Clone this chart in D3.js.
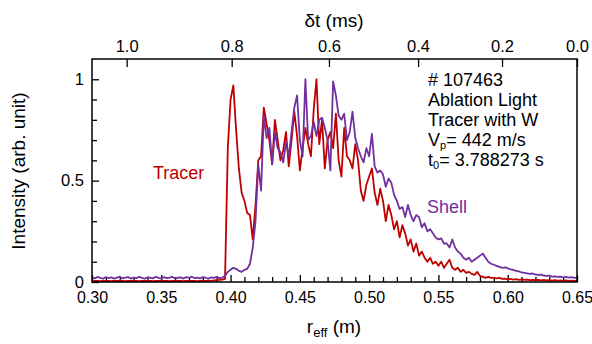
<!DOCTYPE html>
<html><head><meta charset="utf-8">
<script src="https://cdn.jsdelivr.net/npm/d3@7"></script>
<style>body{margin:0;background:#fff}svg{display:block}text{font-family:"Liberation Sans",Arial,sans-serif}</style>
</head><body><svg id="c" width="592" height="344"></svg>
<script>
// sampling grid of r_eff (m)
const rStart = 0.300, rStep = 0.002;
// Tracer intensity (red)
const tracer = [
0.006,0.005,0.006,0.004,0.005,0.006,0.005,0.004,0.006,0.005,
0.005,0.006,0.004,0.005,0.006,0.005,0.005,0.004,0.006,0.005,
0.006,0.005,0.004,0.005,0.006,0.005,0.005,0.006,0.004,0.005,
0.006,0.005,0.005,0.004,0.006,0.005,0.006,0.005,0.004,0.006,
0.005,0.006,0.007,0.006,0.008,0.009,0.010,0.012,
0.015,0.66,0.90,0.97,0.75,0.56,0.44,0.40,0.34,0.33,0.21,0.38,0.60,0.62,0.86,
0.78,0.70,0.58,0.80,0.70,0.60,0.65,0.74,0.57,0.70,0.84,0.72,0.55,0.66,0.76,0.68,0.62,0.85,1.00,0.68,
0.80,0.56,0.70,0.74,0.66,0.83,0.60,0.52,0.76,0.62,0.60,0.56,0.68,0.60,0.45,0.40,0.48,
0.52,0.56,0.44,0.38,0.46,0.40,0.30,0.38,0.33,0.26,0.30,0.22,0.28,0.24,0.18,0.21,0.15,0.19,0.13,0.15,
0.12,0.10,0.12,0.09,0.10,0.08,0.10,0.07,0.09,0.11,0.07,0.06,0.07,0.05,0.06,0.045,0.05,0.04,0.035,0.05,
0.03,0.025,0.02,0.025,0.02,0.02,0.018,0.02,0.015,0.017,0.013,0.015,0.012,0.014,0.011,0.013,0.010,0.012,0.009,0.011,
0.009,0.010,0.008,0.010,0.008,0.009,0.007,0.009,0.007,0.008,0.006,0.008,0.006,0.007,0.006,0.007
];
// Shell intensity (purple)
const shell = [
0.022,0.018,0.025,0.020,0.016,0.024,0.019,0.023,0.017,0.022,
0.026,0.018,0.021,0.024,0.017,0.022,0.019,0.025,0.020,0.016,
0.023,0.021,0.018,0.026,0.020,0.017,0.024,0.019,0.022,0.025,
0.018,0.021,0.023,0.017,0.024,0.020,0.026,0.019,0.022,0.018,
0.024,0.021,0.017,0.023,0.020,0.025,0.019,0.022,
0.03,0.05,0.06,0.07,0.065,0.055,0.05,0.06,0.065,0.09,0.17,0.30,0.58,0.45,0.82,
0.71,0.76,0.58,0.74,0.66,0.64,0.59,0.69,0.62,0.74,0.86,0.92,0.70,0.62,1.00,0.70,0.72,0.79,0.72,0.80,
0.81,0.76,0.70,0.55,0.99,0.92,0.82,0.80,0.83,0.70,0.74,0.84,0.71,0.66,0.62,0.59,0.66,
0.62,0.73,0.57,0.54,0.55,0.53,0.47,0.51,0.49,0.43,0.40,0.36,0.37,0.32,0.38,0.33,0.30,0.33,0.32,0.27,
0.29,0.25,0.26,0.24,0.22,0.21,0.215,0.19,0.19,0.17,0.21,0.17,0.15,0.14,0.12,0.11,0.12,0.10,0.11,0.12,
0.13,0.14,0.12,0.10,0.09,0.085,0.08,0.075,0.07,0.072,0.068,0.062,0.06,0.055,0.052,0.047,0.045,0.043,0.04,0.042,
0.037,0.035,0.036,0.032,0.03,0.031,0.027,0.028,0.025,0.027,0.023,0.025,0.022,0.024,0.02,0.022
];
const xMajor = [0.30,0.35,0.40,0.45,0.50,0.55,0.60,0.65];
const xMinor = [0.31,0.32,0.33,0.34,0.36,0.37,0.38,0.39,0.41,0.42,0.43,0.44,0.46,0.47,0.48,0.49,
                0.51,0.52,0.53,0.54,0.56,0.57,0.58,0.59,0.61,0.62,0.63,0.64];
const yMajor = [0,0.5,1];
const yMinor = [0.1,0.2,0.3,0.4,0.6,0.7,0.8,0.9];
const dtLabels = ["1.0","0.8","0.6","0.4","0.2","0.0"];
const dtAtR = [0.3250,0.4008,0.4710,0.5353,0.5959,0.65];
const infoLines = ["# 107463","Ablation Light","Tracer with W"];

const svg = d3.select("#c");
const L=92, R=577, T=59, B=282;
const x = d3.scaleLinear().domain([0.30,0.65]).range([L,R]);
const y = d3.scaleLinear().domain([0,1.1]).range([B,T]);
const rAt = i => rStart + i*rStep;

const FS = 16.5;
function styleAxis(g, fs){
  g.select(".domain").remove();
  g.selectAll("line").attr("stroke","#000").attr("stroke-width",1.3);
  g.selectAll("text").attr("font-size",fs||FS).attr("fill","#000").attr("font-family",'"Liberation Sans",Arial,sans-serif');
}
// bottom axis
svg.append("g").attr("transform",`translate(0,${B})`)
  .call(d3.axisBottom(x).tickValues(xMajor).tickSize(-7).tickPadding(10).tickFormat(d3.format(".2f"))).call(styleAxis, 16);
svg.append("g").attr("transform",`translate(0,${B})`)
  .call(d3.axisBottom(x).tickValues(xMinor).tickSize(-5).tickFormat("")).call(styleAxis);
// left axis
svg.append("g").attr("transform",`translate(${L},0)`)
  .call(d3.axisLeft(y).tickValues(yMajor).tickSize(-7).tickPadding(8).tickFormat(d=>String(d))).call(styleAxis);
svg.append("g").attr("transform",`translate(${L},0)`)
  .call(d3.axisLeft(y).tickValues(yMinor).tickSize(-5).tickFormat("")).call(styleAxis);
// top axis (delta t)
svg.append("g").attr("transform",`translate(0,${T})`)
  .call(d3.axisTop(x).tickValues(dtAtR).tickSize(-8).tickPadding(7).tickFormat((d,i)=>dtLabels[i])).call(styleAxis);

// traces
const line = d3.line().x((d,i)=>x(rAt(i))).y(d=>y(d));
svg.append("path").datum(tracer).attr("d",line).attr("fill","none")
  .attr("stroke","#c00000").attr("stroke-width",1.8).attr("stroke-linejoin","round");
svg.append("path").datum(shell).attr("d",line).attr("fill","none")
  .attr("stroke","#7030a0").attr("stroke-width",1.8).attr("stroke-linejoin","round");

// frame
svg.append("rect").attr("x",L).attr("y",T).attr("width",R-L).attr("height",B-T)
  .attr("fill","none").attr("stroke","#000").attr("stroke-width",1.5);

// titles
svg.append("text").attr("x",334).attr("y",27).attr("text-anchor","middle").attr("font-size",19).text("δt (ms)");
const xt = svg.append("text").attr("x",334).attr("y",333).attr("text-anchor","middle").attr("font-size",19);
xt.append("tspan").text("r");
xt.append("tspan").attr("font-size",13).attr("dy",4).text("eff");
xt.append("tspan").attr("dy",-4).text(" (m)");
svg.append("text").attr("transform","translate(25,171) rotate(-90)").attr("text-anchor","middle")
  .attr("font-size",19).text("Intensity (arb. unit)");

// info block
const info = svg.append("g").attr("font-size",18);
infoLines.forEach((s,i)=>info.append("text").attr("x",428).attr("y",86+20*i).text(s));
const v = info.append("text").attr("x",428).attr("y",146);
v.append("tspan").text("V");
v.append("tspan").attr("font-size",11).attr("dy",3).text("p");
v.append("tspan").attr("dy",-3).text("= 442 m/s");
const t0 = info.append("text").attr("x",428).attr("y",166);
t0.append("tspan").text("t");
t0.append("tspan").attr("font-size",11).attr("dy",3).text("0");
t0.append("tspan").attr("dy",-3).text("= 3.788273 s");

// series labels
svg.append("text").attr("x",153).attr("y",179).attr("font-size",18).attr("fill","#c00000").text("Tracer");
svg.append("text").attr("x",427).attr("y",213).attr("font-size",18).attr("fill","#7030a0").text("Shell");
</script></body></html>
